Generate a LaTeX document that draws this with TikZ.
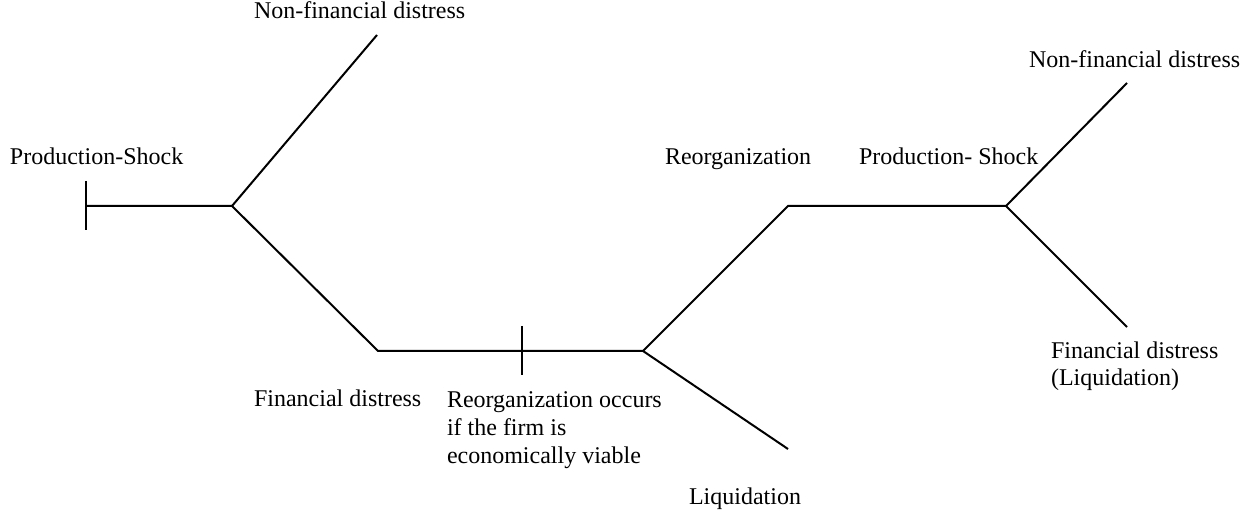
\documentclass[tikz,border=0pt]{standalone}
\usepackage{fontspec}
\setmainfont{Liberation Serif}
\usetikzlibrary{calc}

\begin{document}
\begin{tikzpicture}[x=0.5pt,y=-0.5pt,line width=1pt,
  lbl/.style={anchor=base west,inner sep=0pt,align=left,
    font=\fontsize{12}{13.8}\selectfont}]
  \useasboundingbox (0,0) rectangle (1256,517);

  % Branch points
  \coordinate (start)   at (86,206);
  \coordinate (shock1)  at (232,206);
  \coordinate (nonfin1) at (377,35);
  \coordinate (fin1)    at (378,351);
  \coordinate (cut)     at (522,351);
  \coordinate (reorg)   at (643,351);
  \coordinate (liq)     at (788,449);
  \coordinate (reorg2)  at (788,206);
  \coordinate (shock2)  at (1006,206);
  \coordinate (nonfin2) at (1127,83);
  \coordinate (fin2)    at (1127,327);

  % Tree
  \draw (start) -- (shock1) -- (nonfin1);
  \draw (shock1) -- (fin1) -- (cut) -- (reorg) -- (reorg2) -- (shock2) -- (nonfin2);
  \draw (reorg) -- (liq);
  \draw (shock2) -- (fin2);

  % Ticks
  \foreach \t in {start,cut}
    \draw ($(\t)+(0,-25)$) -- ($(\t)+(0,24)$);

  % Labels (multi-line ones sit on their last baseline)
  \node[lbl] (nf1) at (253,19)  {Non-financial distress};
  \node[lbl] (ps1) at (9,165)   {Production-Shock};
  \node[lbl] (fd1) at (253,407) {Financial distress};
  \node[lbl] (ro)  at (446,463) {Reorganization occurs\\if the firm is\\economically viable};
  \node[lbl] (lq)  at (688,504) {Liquidation};
  \node[lbl] (rg)  at (664,165) {Reorganization};
  \node[lbl] (ps2) at (858,165) {Production- Shock};
  \node[lbl] (nf2) at (1028,68) {Non-financial distress};
  \node[lbl] (fd2) at (1050,386) {Financial distress\\(Liquidation)};
\end{tikzpicture}
\end{document}
